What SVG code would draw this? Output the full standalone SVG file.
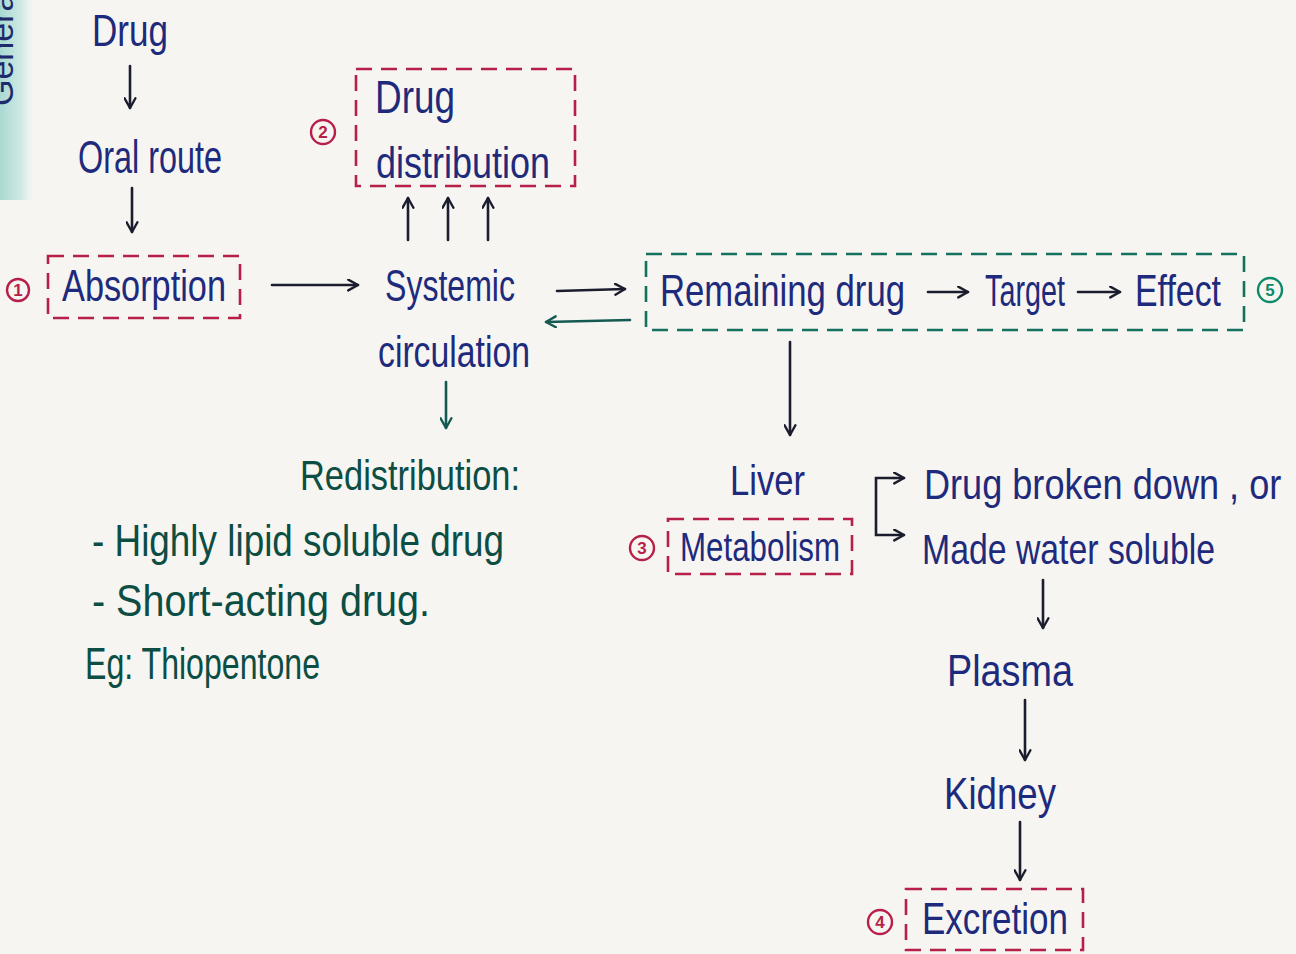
<svg xmlns="http://www.w3.org/2000/svg" width="1296" height="954" viewBox="0 0 1296 954">
<defs>
<linearGradient id="strip" x1="0" y1="0" x2="1" y2="0">
<stop offset="0" stop-color="#a9d9d2"/>
<stop offset="0.6" stop-color="#cfe9e4"/>
<stop offset="1" stop-color="#f6f5f1" stop-opacity="0"/>
</linearGradient>
<marker id="ahk" viewBox="0 0 12 12" refX="10" refY="6" markerWidth="13" markerHeight="13" markerUnits="userSpaceOnUse" orient="auto">
<path d="M1,1 L10,6 L1,11" fill="none" stroke="#1b1d2e" stroke-width="2.2" stroke-linecap="round" stroke-linejoin="round"/>
</marker>
<marker id="aht" viewBox="0 0 12 12" refX="10" refY="6" markerWidth="13" markerHeight="13" markerUnits="userSpaceOnUse" orient="auto">
<path d="M1,1 L10,6 L1,11" fill="none" stroke="#145a52" stroke-width="2.2" stroke-linecap="round" stroke-linejoin="round"/>
</marker>
</defs>
<style>
.t{font-family:"Liberation Sans","DejaVu Sans",sans-serif;fill:#1e2a7c;}
.g{font-family:"Liberation Sans","DejaVu Sans",sans-serif;fill:#0c4d44;}
.rbox{fill:none;stroke:#b81f48;stroke-width:2.6;stroke-dasharray:16 9;}
.gbox{fill:none;stroke:#14705f;stroke-width:2.6;stroke-dasharray:16 9;}
.num{fill:none;stroke-width:2.4;}
.nt{font-family:"Liberation Sans",sans-serif;font-size:17px;font-weight:bold;text-anchor:middle;}
.k{fill:none;stroke:#1b1d2e;stroke-width:2.6;stroke-linecap:round;marker-end:url(#ahk);}
.tk{fill:none;stroke:#145a52;stroke-width:2.6;stroke-linecap:round;marker-end:url(#aht);}
</style>
<rect x="0" y="0" width="1296" height="954" fill="#f6f5f1"/>
<rect x="0" y="0" width="36" height="200" fill="url(#strip)"/>
<text x="0" y="0" transform="translate(13,106) rotate(-90)" font-family="Liberation Sans,sans-serif" font-size="34" fill="#1e2a6c">General</text>

<g id="connectors">
<line class="k" x1="130" y1="66" x2="130" y2="108"/>
<line class="k" x1="132" y1="188" x2="132" y2="232"/>
<line class="k" x1="272" y1="285" x2="358" y2="285"/>
<line class="k" x1="408" y1="240" x2="408" y2="198"/>
<line class="k" x1="448" y1="240" x2="448" y2="198"/>
<line class="k" x1="488" y1="240" x2="488" y2="198"/>
<line class="k" x1="557" y1="291" x2="625" y2="289"/>
<line class="tk" x1="630" y1="320" x2="546" y2="322"/>
<line class="tk" x1="446" y1="382" x2="446" y2="428"/>
<line class="k" x1="790" y1="342" x2="790" y2="435"/>
<line class="k" x1="928" y1="292" x2="968" y2="292"/>
<line class="k" x1="1078" y1="292" x2="1120" y2="292"/>
<path class="k" d="M894,478 L876,478 L876,535 L904,535"/>
<line class="k" x1="894" y1="478" x2="904" y2="478"/>
<line class="k" x1="1043" y1="580" x2="1043" y2="628"/>
<line class="k" x1="1025" y1="700" x2="1025" y2="760"/>
<line class="k" x1="1020" y1="822" x2="1020" y2="880"/>
</g>

<g id="n-drug"><text class="t" x="92" y="46" font-size="44" textLength="76" lengthAdjust="spacingAndGlyphs">Drug</text></g>
<g id="n-oral"><text class="t" x="78" y="173" font-size="46" textLength="144" lengthAdjust="spacingAndGlyphs">Oral route</text></g>

<g id="n-absorption">
<circle class="num" cx="18" cy="290" r="11" stroke="#b81f48"/>
<text class="nt" x="18" y="296" fill="#b81f48">1</text>
<rect class="rbox" x="48" y="256" width="192" height="62"/>
<text class="t" x="62" y="301" font-size="44" textLength="164" lengthAdjust="spacingAndGlyphs">Absorption</text>
</g>

<g id="n-systemic">
<text class="t" x="385" y="301" font-size="44" textLength="130" lengthAdjust="spacingAndGlyphs">Systemic</text>
<text class="t" x="378" y="367" font-size="44" textLength="152" lengthAdjust="spacingAndGlyphs">circulation</text>
</g>

<g id="n-distribution">
<circle class="num" cx="323" cy="132" r="12" stroke="#b81f48"/>
<text class="nt" x="323" y="138" fill="#b81f48">2</text>
<rect class="rbox" x="356" y="69" width="219" height="117"/>
<text class="t" x="375" y="113" font-size="46" textLength="80" lengthAdjust="spacingAndGlyphs">Drug</text>
<text class="t" x="376" y="178" font-size="44" textLength="174" lengthAdjust="spacingAndGlyphs">distribution</text>
</g>

<g id="n-remaining">
<rect class="gbox" x="646" y="254" width="598" height="76"/>
<text class="t" x="660" y="306" font-size="44" textLength="245" lengthAdjust="spacingAndGlyphs">Remaining drug</text>
<text class="t" x="985" y="306" font-size="44" textLength="80" lengthAdjust="spacingAndGlyphs">Target</text>
<text class="t" x="1135" y="306" font-size="44" textLength="86" lengthAdjust="spacingAndGlyphs">Effect</text>
<circle class="num" cx="1270" cy="290" r="12" stroke="#0e8a6a"/>
<text class="nt" x="1270" y="296" fill="#0e8a6a">5</text>
</g>

<g id="n-redistribution">
<text class="g" x="300" y="490" font-size="42" textLength="220" lengthAdjust="spacingAndGlyphs">Redistribution:</text>
<text class="g" x="92" y="556" font-size="44" textLength="412" lengthAdjust="spacingAndGlyphs">- Highly lipid soluble drug</text>
<text class="g" x="92" y="616" font-size="44" textLength="338" lengthAdjust="spacingAndGlyphs">- Short-acting drug.</text>
<text class="g" x="85" y="679" font-size="44" textLength="235" lengthAdjust="spacingAndGlyphs">Eg: Thiopentone</text>
</g>

<g id="n-liver"><text class="t" x="730" y="495" font-size="42" textLength="75" lengthAdjust="spacingAndGlyphs">Liver</text></g>

<g id="n-metabolism">
<circle class="num" cx="642" cy="548" r="12" stroke="#b81f48"/>
<text class="nt" x="642" y="554" fill="#b81f48">3</text>
<rect class="rbox" x="668" y="519" width="184" height="55"/>
<text class="t" x="680" y="561" font-size="40" textLength="160" lengthAdjust="spacingAndGlyphs">Metabolism</text>
</g>

<g id="n-products">
<text class="t" x="0" y="0" transform="translate(924,499) scale(0.86,1)" font-size="42">Drug broken down , or</text>
<text class="t" x="922" y="564" font-size="42" textLength="293" lengthAdjust="spacingAndGlyphs">Made water soluble</text>
</g>

<g id="n-plasma"><text class="t" x="947" y="686" font-size="44" textLength="126" lengthAdjust="spacingAndGlyphs">Plasma</text></g>
<g id="n-kidney"><text class="t" x="944" y="809" font-size="44" textLength="112" lengthAdjust="spacingAndGlyphs">Kidney</text></g>

<g id="n-excretion">
<circle class="num" cx="880" cy="922" r="12" stroke="#b81f48"/>
<text class="nt" x="880" y="928" fill="#b81f48">4</text>
<rect class="rbox" x="906" y="889" width="177" height="61"/>
<text class="t" x="922" y="934" font-size="44" textLength="146" lengthAdjust="spacingAndGlyphs">Excretion</text>
</g>
</svg>
